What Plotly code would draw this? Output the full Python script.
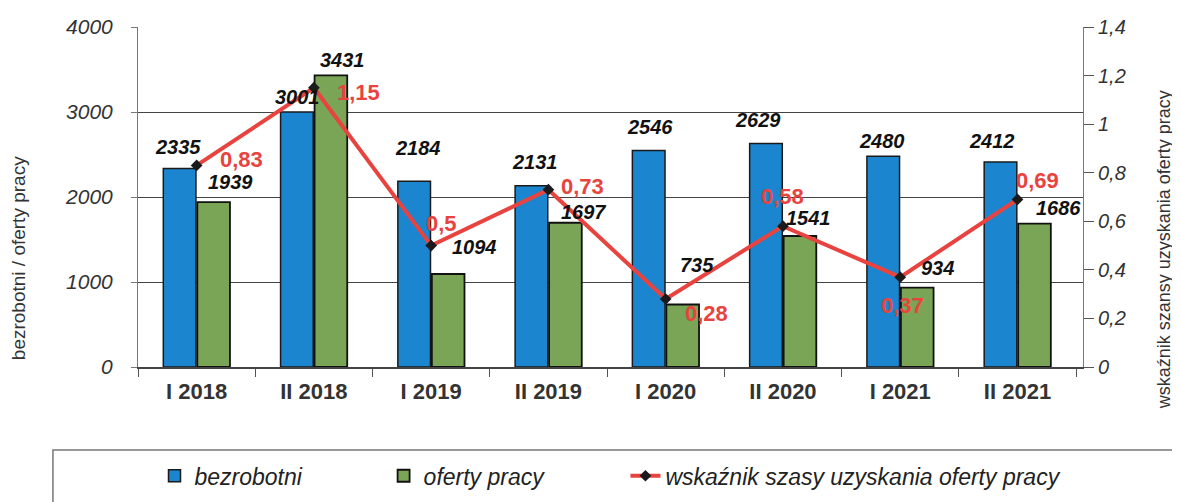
import plotly.graph_objects as go

# ----------------------------------------------------------
# Data
# ----------------------------------------------------------

periods = ["I 2018", "II 2018", "I 2019", "II 2019",
           "I 2020", "II 2020", "I 2021", "II 2021"]

bezrobotni = [2335, 3001, 2184, 2131, 2546, 2629, 2480, 2412]
oferty = [1939, 3431, 1094, 1697, 735, 1541, 934, 1686]
wskaznik = [0.83, 1.15, 0.5, 0.73, 0.28, 0.58, 0.37, 0.69]
wskaznik_labels = ["0,83", "1,15", "0,5", "0,73", "0,28", "0,58", "0,37", "0,69"]

left_ticks = [0, 1000, 2000, 3000, 4000]
right_ticks = [0, 0.2, 0.4, 0.6, 0.8, 1.0, 1.2, 1.4]
right_ticktext = ["0", "0,2", "0,4", "0,6", "0,8", "1", "1,2", "1,4"]

# label offsets in px (x, y) relative to the category / value
blue_off = [(-19, 22), (-16, 15), (-13, 33), (-13, 24),
            (-16, 24), (-25, 24), (-18, 15), (-26, 21)]
green_off = [(34, 20), (29, 15), (43, 27), (35, 11),
             (31, 40), (26, 18), (37, 20), (41, 16)]
red_off = [(45, 6), (45, -5), (10, 22), (34, 3),
           (41, -14), (0, 30), (2, -28), (20, 19)]

BLUE = "#1b86cf"
GREEN = "#7ba556"
RED = "#e8433e"
FONT = "Liberation Sans"
GAP = "\u00a0" * 12

fig = go.Figure()

fig.add_trace(
    go.Bar(
        x=periods,
        y=bezrobotni,
        name="bezrobotni" + GAP,
        marker=dict(color=BLUE, line=dict(color="#1a1a1a", width=1.5))
    )
)

fig.add_trace(
    go.Bar(
        x=periods,
        y=oferty,
        name="oferty pracy" + GAP,
        marker=dict(color=GREEN, line=dict(color="#111111", width=1.8))
    )
)

fig.add_trace(
    go.Scatter(
        x=periods,
        y=wskaznik,
        yaxis="y2",
        mode="lines+markers",
        name="wskaźnik szasy uzyskania oferty pracy",
        line=dict(color=RED, width=4),
        marker=dict(symbol="diamond", size=9, color="#1a1a1a")
    )
)

# ----------------------------------------------------------
# Data labels
# ----------------------------------------------------------

for p, v, (dx, dy) in zip(periods, bezrobotni, blue_off):
    fig.add_annotation(
        x=p, y=v, text=str(v), showarrow=False,
        xshift=dx, yshift=dy,
        font=dict(family=FONT, size=20, color="#111111",
                  weight="bold", style="italic")
    )

for p, v, (dx, dy) in zip(periods, oferty, green_off):
    fig.add_annotation(
        x=p, y=v, text=str(v), showarrow=False,
        xshift=dx, yshift=dy,
        font=dict(family=FONT, size=20, color="#111111",
                  weight="bold", style="italic")
    )

for p, v, t, (dx, dy) in zip(periods, wskaznik, wskaznik_labels, red_off):
    fig.add_annotation(
        x=p, y=v, yref="y2", text=t, showarrow=False,
        xshift=dx, yshift=dy,
        font=dict(family=FONT, size=22, color=RED, weight="bold")
    )

# axis titles
fig.add_annotation(
    x=-0.127, y=0.32, xref="paper", yref="paper",
    xanchor="center", yanchor="middle",
    text="bezrobotni / oferty pracy", textangle=-90, showarrow=False,
    font=dict(family=FONT, size=19, color="#333333")
)
fig.add_annotation(
    x=1.086, y=0.344, xref="paper", yref="paper",
    xanchor="center", yanchor="middle",
    text="wskaźnik szansy uzyskania oferty pracy", textangle=-90,
    showarrow=False,
    font=dict(family=FONT, size=18, color="#333333")
)

# legend frame
fig.add_shape(
    type="rect", xref="paper", yref="paper",
    x0=-0.09, x1=1.106, y0=-0.42, y1=-0.244,
    line=dict(color="#777777", width=1.5)
)

fig.update_layout(
    width=1180,
    height=502,
    autosize=False,
    margin=dict(l=130, r=105, t=19, b=143, autoexpand=False),
    paper_bgcolor="white",
    plot_bgcolor="white",
    barmode="group",
    bargap=0.42,
    bargroupgap=0.04,
    font=dict(family=FONT, color="#333333"),
    showlegend=True,
    legend=dict(
        orientation="h",
        x=0.50, xanchor="center",
        y=-0.32, yanchor="middle",
        font=dict(family=FONT, size=23, color="#222222", style="italic"),
        bgcolor="rgba(0,0,0,0)"
    ),
    xaxis=dict(
        tickfont=dict(family=FONT, size=22, color="#333333", weight="bold"),
        tickson="boundaries",
        ticks="outside",
        ticklen=8,
        tickcolor="#555555",
        ticklabelstandoff=4,
        showline=True,
        linecolor="#444444",
        linewidth=1.5
    ),
    yaxis=dict(
        range=[0, 4000],
        tickvals=left_ticks,
        tickfont=dict(family=FONT, size=21, color="#333333", style="italic"),
        ticklabelstandoff=14,
        showgrid=True,
        gridcolor="#444444",
        gridwidth=1.2,
        showline=True,
        linecolor="#777777",
        ticks="outside",
        ticklen=6,
        tickcolor="#777777",
        zeroline=False
    ),
    yaxis2=dict(
        range=[0, 1.4],
        overlaying="y",
        side="right",
        tickvals=right_ticks,
        ticktext=right_ticktext,
        tickfont=dict(family=FONT, size=20, color="#333333", style="italic"),
        showgrid=False,
        showline=True,
        linecolor="#777777",
        ticks="outside",
        ticklen=10,
        tickcolor="#555555",
        zeroline=False
    )
)

fig.write_html("out.html")
